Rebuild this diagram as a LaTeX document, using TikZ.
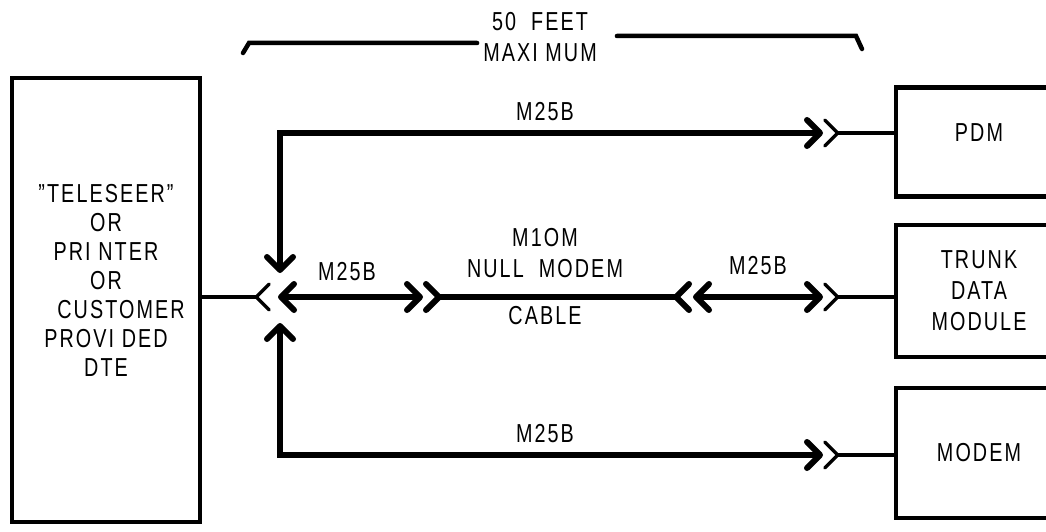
\documentclass[tikz,border=0pt]{standalone}
\usepackage{fontspec}
\setmainfont{Liberation Sans}[FakeStretch=0.76,LetterSpace=8]
\usetikzlibrary{arrows.meta}

\begin{document}
\begin{tikzpicture}[x=1pt,y=-1pt,
  every node/.style={font=\fontsize{26}{31}\selectfont,align=center},
  unit/.style={draw,line width=4.5pt,inner sep=0pt},
  cable/.style={line width=6pt},
  wire/.style={line width=3.5pt},
  span/.style={line width=4.5pt,line cap=round},
  plug/.tip={Straight Barb[length=13pt,width=26pt,round]},
  jack/.tip={Straight Barb[length=13pt,width=26pt,round,reversed]}]
  \useasboundingbox (0,0) rectangle (1046,532);
  % Units
  \node[unit,minimum width=188pt,minimum height=444pt,
    label={[yshift=20pt,font=\fontsize{26}{29}\selectfont]center:”TELESEER”\\OR\\PRI NTER\\OR\\\hspace*{30pt}CUSTOMER\\PROVI DED\\DTE}] (dte) at (106,300) {};
  \node[unit,minimum width=166pt,minimum height=109pt,label={[yshift=9pt]center:PDM}] (pdm) at (979,142) {};
  \node[unit,minimum width=166pt,minimum height=132pt] (tdm) at (979,291) {TRUNK\\DATA\\MODULE};
  \node[unit,minimum width=166pt,minimum height=130pt] (modem) at (979,453) {MODEM};
  % Cable ends
  \coordinate (topend) at (823,133);
  \coordinate (topcorner) at (280,133);
  \coordinate (toptip) at (280,273);
  \coordinate (botend) at (823,455);
  \coordinate (botcorner) at (280,455);
  \coordinate (bottip) at (280,323);
  \coordinate (dtejack) at (271,297);
  \coordinate (lplug) at (278,297);
  \coordinate (lsock) at (423,297);
  \coordinate (rsock) at (692,297);
  \coordinate (rplug) at (693,297);
  \coordinate (tdmjack) at (823,297);
  % Cables
  \draw[wire,-{jack}] (dte.east |- dtejack) -- (dtejack);
  \draw[cable,{plug}-{plug}] (topend) -- (topcorner) -- (toptip);
  \draw[cable,{plug}-{plug}] (botend) -- (botcorner) -- (bottip);
  \draw[cable,{plug}-{plug}] (lplug) -- (lsock);
  \draw[cable,{jack}-{jack}] (lsock) -- (rsock);
  \draw[cable,{plug}-{plug}] (rplug) -- (tdmjack);
  \draw[wire,-{jack}] (pdm.west |- topend) -- (topend);
  \draw[wire,-{jack}] (tdm.west |- tdmjack) -- (tdmjack);
  \draw[wire,-{jack}] (modem.west |- botend) -- (botend);
  % Labels
  \node (ltop) at (545,112) {M25B};
  \node (lleft) at (347,272) {M25B};
  \node (lright) at (758,266) {M25B};
  \node (lbot) at (545,434) {M25B};
  \node (nullmodem) at (545,253) {M1OM\\NULL\ \ MODEM};
  \node (cablelbl) at (545,316) {CABLE};
  % Length
  \node[inner xsep=6pt] (spanlbl) at (540,37) {50\ \ FEET\\MAXI MUM};
  \coordinate (lbar) at (249,43);
  \coordinate (rbar) at (856,36);
  \draw[span] (243,53) -- (lbar) -- (spanlbl.west |- lbar);
  \draw[span] ([xshift=14pt]spanlbl.east |- rbar) -- (rbar) -- (862,49);
\end{tikzpicture}
\end{document}
